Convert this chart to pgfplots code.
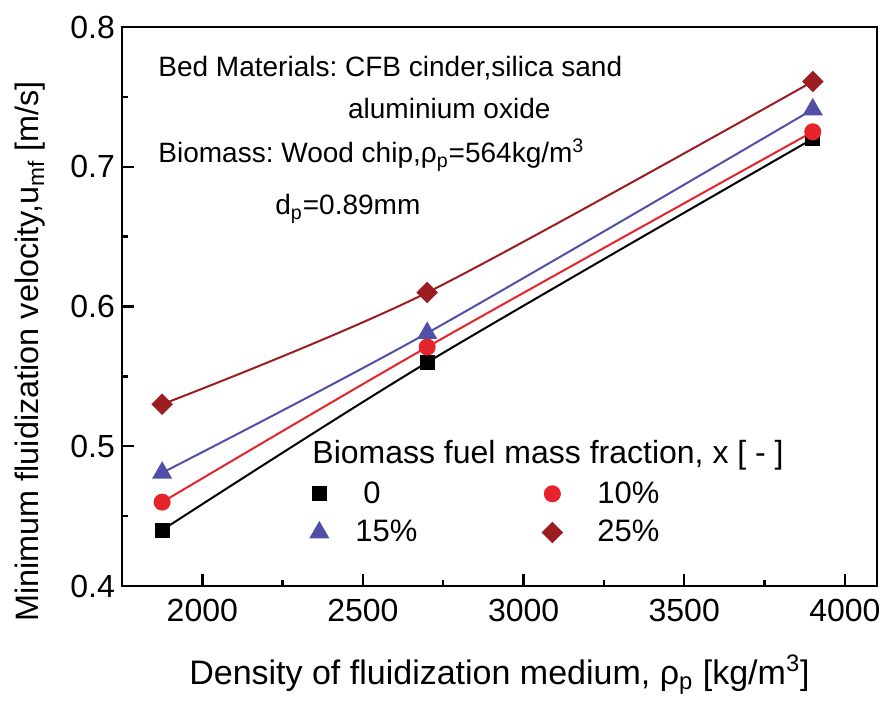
\documentclass[border=0pt]{standalone}
\usepackage{pgfplots}
\pgfplotsset{compat=1.18}
\usepackage{fontspec}
\setmainfont{Liberation Sans}
\frenchspacing
\definecolor{cred}{HTML}{E5242C}
\definecolor{cblue}{HTML}{5050A8}
\definecolor{cdred}{HTML}{9B1D22}
\pgfplotsset{
 narrowimg/.style={legend image code/.code={\path[draw=none] (-6pt,0pt) -- (16pt,0pt); \draw[##1, only marks] plot coordinates {(0pt,0pt)};}},
 wideimg/.style={legend image code/.code={\path[draw=none] (-6pt,0pt) -- (20.5pt,0pt); \draw[##1, only marks] plot coordinates {(0pt,0pt)};}},
}
\begin{document}
\begin{tikzpicture}
\begin{axis}[
 scale only axis, width=377.5pt, height=279.5pt,
 xmin=1750, xmax=4100, ymin=0.4, ymax=0.8,
 xtick={2000,2500,3000,3500,4000},
 ytick={0.4,0.5,0.6,0.7,0.8},
 minor x tick num=1, minor y tick num=1,
 tick align=inside, tick pos=left,
 major tick length=6pt, minor tick length=3pt,
 axis line style={line width=1.3pt},
 every tick/.style={line width=1.2pt, black},
 /pgf/number format/assume math mode=true,
 ticklabel style={font=\fontsize{16}{19}\selectfont},
 xticklabel style={/pgf/number format/1000 sep={}, yshift=-3pt},
 yticklabel style={/pgf/number format/fixed, /pgf/number format/fixed zerofill, /pgf/number format/precision=1},
 xlabel={Density of fluidization medium, ρ\textsubscript{p} [kg/m\textsuperscript{3}]},
 ylabel={Minimum fluidization velocity,u\textsubscript{mf} [m/s]},
 xlabel style={font=\fontsize{17}{20}\selectfont, at={([yshift=-49pt]axis description cs:0.5,0)}, anchor=base},
 ylabel style={font=\fontsize{16.2}{20}\selectfont, inner sep=0pt, at={([xshift=-41.5pt]axis description cs:0,-0.0644)}, anchor=base west},
 legend columns=2,
 legend cell align=left,
 legend style={draw=none, fill=none, at={(rel axis cs:0.237,0.202)}, anchor=north west,
   font=\fontsize{15.5}{18}\selectfont,
   /tikz/every even column/.append style={column sep=59.5pt}, row sep=3pt},
 narrowimg,
]
\addplot[black, line width=1pt, smooth, mark=square*, mark size=3.25pt, mark options={solid, fill=black, draw=black}]
 coordinates {(1875,0.44) (2700,0.56) (3900,0.72)};
\addlegendentry{\hspace{4pt}0}
\addplot[cred, line width=1pt, smooth, mark=*, mark size=3.75pt, mark options={solid, fill=cred, draw=cred}, wideimg]
 coordinates {(1875,0.46) (2700,0.571) (3900,0.725)};
\addlegendentry{10\%}
\addplot[cblue, line width=1pt, smooth, mark=triangle*, mark size=4.8pt, mark options={solid, fill=cblue, draw=cblue}]
 coordinates {(1875,0.481) (2700,0.581) (3900,0.741)};
\addlegendentry{15\%}
\addplot[cdred, line width=1pt, smooth, mark=square*, mark size=3.3pt, mark options={solid, rotate=45, fill=cdred, draw=cdred}, wideimg]
 coordinates {(1875,0.53) (2700,0.61) (3900,0.761)};
\addlegendentry{25\%}
\node[anchor=base west, inner sep=0pt, font=\fontsize{14}{17}\selectfont] at (rel axis cs:0.0477,0.9106) {Bed Materials: CFB cinder,silica sand};
\node[anchor=base west, inner sep=0pt, font=\fontsize{14}{17}\selectfont] at (rel axis cs:0.299,0.837) {aluminium oxide};
\node[anchor=base west, inner sep=0pt, font=\fontsize{14}{17}\selectfont] at (rel axis cs:0.0477,0.757) {Biomass: Wood chip,ρ\textsubscript{p}=564kg/m\textsuperscript{3}};
\node[anchor=base west, inner sep=0pt, font=\fontsize{14}{17}\selectfont] at (rel axis cs:0.2026,0.664) {d\textsubscript{p}=0.89mm};
\node[anchor=base west, inner sep=0pt, font=\fontsize{16}{19}\selectfont] at (rel axis cs:0.2517,0.22) {Biomass fuel mass fraction, x [ - ]};
\end{axis}
\pgfresetboundingbox
\path[use as bounding box] (-61pt,-58pt) rectangle (380.5pt,293pt);
\end{tikzpicture}
\end{document}
